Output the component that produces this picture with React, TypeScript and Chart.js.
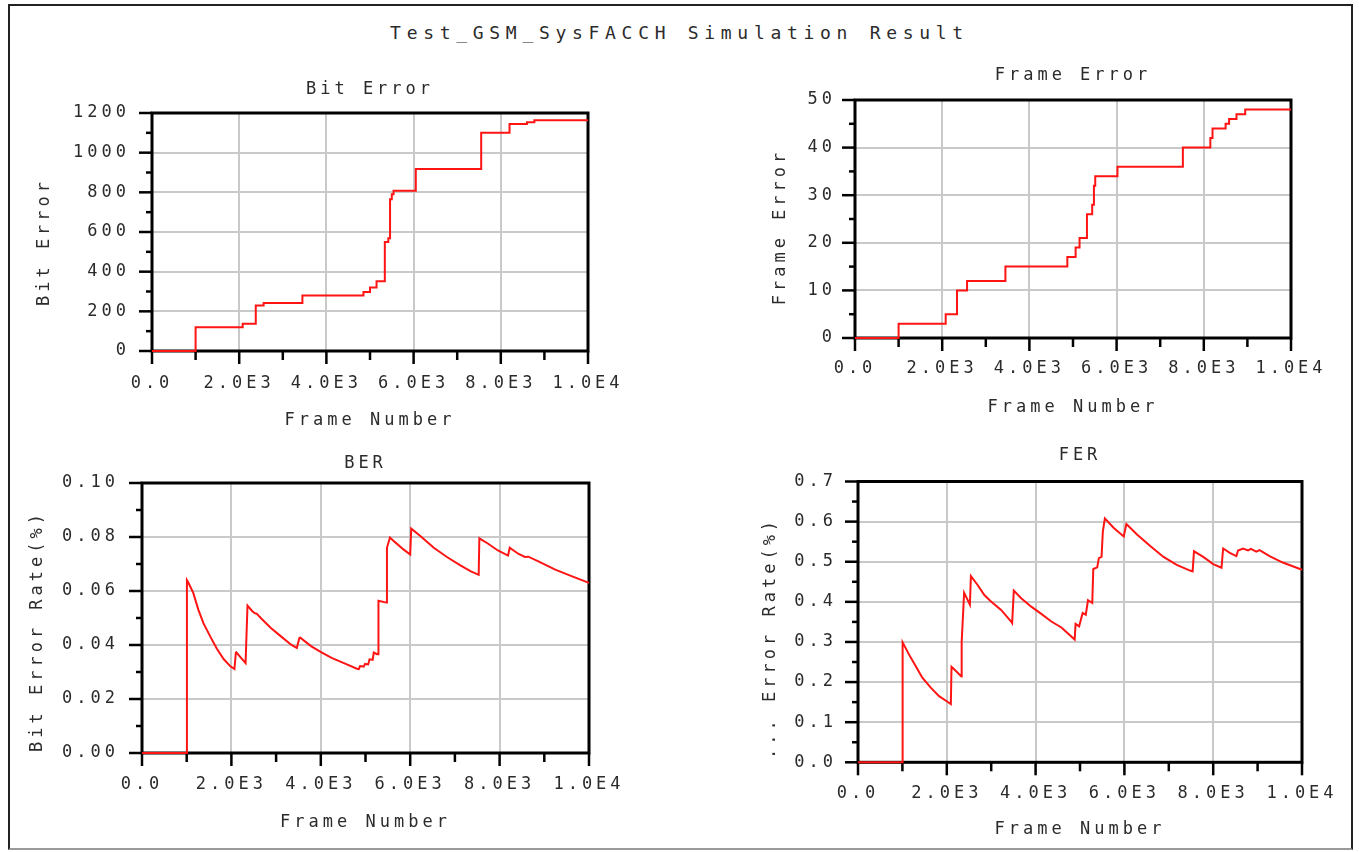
import React, { useEffect, useRef } from 'react';
import { Chart, registerables } from 'chart.js';

Chart.register(...registerables);

// ---------- data ----------
const bitErrorFrames = [0, 1000, 2080, 2380, 2560, 3450, 4850, 5000, 5150, 5340, 5420, 5460, 5500, 5540, 6050, 7550, 8200, 8600, 8770, 10000];
const bitErrorValues = [0, 120, 138, 230, 242, 280, 298, 320, 352, 550, 568, 765, 790, 808, 918, 1100, 1145, 1153, 1163, 1163];

const frameErrorFrames = [0, 1000, 2080, 2340, 2570, 3450, 4870, 5060, 5150, 5320, 5440, 5480, 5510, 6020, 7520, 8150, 8200, 8500, 8580, 8750, 8950, 10000];
const frameErrorValues = [0, 3, 5, 10, 12, 15, 17, 19, 21, 26, 28, 32, 34, 36, 40, 42, 44, 45, 46, 47, 48, 48];

const berFrames = [0, 1000, 1005, 1030, 1147, 1260, 1374, 1525, 1675, 1826, 1977, 2068, 2100, 2110, 2317, 2360, 2468, 2520, 2566, 2657, 2883, 3109, 3336, 3464, 3520, 3540, 3789, 4015, 4242, 4543, 4808, 4850, 4880, 4960, 4990, 5060, 5090, 5160, 5185, 5260, 5283, 5290, 5470, 5480, 5547, 5660, 5849, 6000, 6023, 6226, 6528, 6830, 7132, 7358, 7532, 7547, 7736, 7962, 8189, 8226, 8415, 8566, 8642, 8868, 9245, 9623, 10000];
const berValues = [0, 0, 0.0640, 0.0633, 0.0593, 0.0531, 0.0481, 0.0432, 0.0386, 0.0348, 0.0321, 0.0311, 0.0372, 0.0373, 0.0333, 0.0546, 0.0525, 0.0518, 0.0516, 0.0500, 0.0463, 0.0432, 0.0401, 0.0389, 0.0426, 0.0427, 0.0395, 0.0373, 0.0352, 0.0331, 0.0312, 0.0311, 0.0322, 0.0320, 0.0330, 0.0328, 0.0347, 0.0345, 0.0372, 0.0366, 0.0366, 0.0564, 0.0557, 0.0760, 0.0798, 0.0781, 0.0754, 0.0735, 0.0831, 0.0804, 0.0760, 0.0725, 0.0694, 0.0673, 0.0660, 0.0795, 0.0776, 0.0750, 0.0731, 0.0760, 0.0738, 0.0726, 0.0727, 0.0710, 0.0679, 0.0654, 0.0630];

const ferFrames = [0, 1000, 1005, 1147, 1298, 1449, 1638, 1826, 2015, 2091, 2106, 2200, 2317, 2330, 2335, 2390, 2520, 2543, 2694, 2845, 2996, 3223, 3449, 3472, 3509, 3675, 3902, 4128, 4355, 4581, 4880, 4900, 4980, 5060, 5130, 5180, 5276, 5299, 5388, 5425, 5485, 5515, 5560, 5761, 5985, 6045, 6284, 6582, 6881, 7179, 7478, 7537, 7567, 7776, 8000, 8187, 8224, 8373, 8522, 8560, 8672, 8784, 8850, 8970, 9045, 9269, 9567, 10000];
const ferValues = [0, 0, 0.299, 0.269, 0.240, 0.211, 0.186, 0.165, 0.151, 0.145, 0.238, 0.228, 0.215, 0.214, 0.300, 0.423, 0.393, 0.464, 0.442, 0.417, 0.401, 0.380, 0.351, 0.347, 0.428, 0.409, 0.388, 0.370, 0.351, 0.336, 0.306, 0.345, 0.339, 0.372, 0.368, 0.404, 0.397, 0.482, 0.486, 0.509, 0.512, 0.576, 0.608, 0.584, 0.563, 0.594, 0.568, 0.539, 0.512, 0.492, 0.478, 0.476, 0.526, 0.512, 0.494, 0.485, 0.533, 0.522, 0.514, 0.528, 0.533, 0.528, 0.532, 0.525, 0.529, 0.514, 0.498, 0.480];

// tick labels (labelled every second tick)
const frameTickLabels = ['0.0', '2.0E3', '4.0E3', '6.0E3', '8.0E3', '1.0E4'];
const bitErrorTickLabels = ['0', '200', '400', '600', '800', '1000', '1200'];
const frameErrorTickLabels = ['0', '10', '20', '30', '40', '50'];
const berTickLabels = ['0.00', '0.02', '0.04', '0.06', '0.08', '0.10'];
const ferTickLabels = ['0.0', '0.1', '0.2', '0.3', '0.4', '0.5', '0.6', '0.7'];

const mainTitle = 'Test_GSM_SysFACCH Simulation Result';
const xAxisTitle = 'Frame Number';

const FONT = 'DejaVu Sans Mono';
const TEXT = '#2b2b2b';
const GRID = '#c9c9c9';
const LINE = '#ff1414';

type PanelProps = {
  left: number; top: number; width: number; height: number;
  padRight: number; yWidth: number; yTitleX: number; yTitleShift: number;
  titleTop: number; titleBottom: number;
  xHeight: number; xTitleBottom: number; xTickPad: number; yTickPad: number;
  title: string; yTitle: string;
  frames: number[]; values: number[];
  yMax: number; yStep: number; yLabels: string[];
  stepped: boolean;
};

function Panel(p: PanelProps) {
  const ref = useRef<HTMLCanvasElement | null>(null);
  useEffect(() => {
    const canvas = ref.current;
    if (!canvas) return;
    const font = { family: FONT, size: 17, weight: 'normal' as const, lineHeight: 1.2 };
    const setSpacing = (c: any) => { try { c.ctx.letterSpacing = '4px'; } catch (e) { /* ignore */ } };
    const spacing = {
      id: 'spacing',
      beforeInit: setSpacing,
      beforeUpdate: setSpacing,
      beforeLayout: setSpacing,
      beforeDraw: setSpacing,
    };
    const frame = {
      id: 'frame',
      beforeDatasetsDraw(c: any) {
        const { ctx, chartArea: a, scales } = c;
        ctx.save();
        ctx.strokeStyle = '#000';
        ctx.lineWidth = 2.5;
        scales.x.ticks.forEach((t: any) => {
          const px = scales.x.getPixelForValue(t.value);
          const len = t.label !== '' ? 13 : 9;
          ctx.beginPath();
          ctx.moveTo(px, a.bottom);
          ctx.lineTo(px, a.bottom + len);
          ctx.stroke();
        });
        scales.y.ticks.forEach((t: any) => {
          const py = scales.y.getPixelForValue(t.value);
          const len = t.label !== '' ? 13 : 6;
          ctx.beginPath();
          ctx.moveTo(a.left - len, py);
          ctx.lineTo(a.left, py);
          ctx.stroke();
        });
        ctx.lineWidth = 3;
        ctx.strokeRect(a.left, a.top, a.right - a.left, a.bottom - a.top);
        ctx.restore();
      },
      afterDraw(c: any) {
        const { ctx, chartArea: a } = c;
        ctx.save();
        try { ctx.letterSpacing = '4px'; } catch (e) { /* ignore */ }
        ctx.font = `17px "${FONT}"`;
        ctx.fillStyle = TEXT;
        ctx.translate(p.yTitleX, (a.top + a.bottom) / 2 + p.yTitleShift);
        ctx.rotate(-Math.PI / 2);
        ctx.textAlign = 'center';
        ctx.textBaseline = 'middle';
        ctx.fillText(p.yTitle, 0, 0);
        ctx.restore();
      },
    };
    const xMinor = 1000;
    const yMinor = p.yStep;
    const chart = new Chart(canvas, {
      type: 'line',
      data: {
        datasets: [{
          data: p.frames.map((f, i) => ({ x: f, y: p.values[i] })),
          borderColor: LINE,
          borderWidth: 2,
          pointRadius: 0,
          tension: 0,
          stepped: p.stepped ? 'before' : false,
          clip: false,
        } as any],
      },
      options: {
        animation: false,
        responsive: false,
        devicePixelRatio: 1,
        layout: { padding: { left: 0, top: 0, right: p.padRight, bottom: 0 } },
        plugins: {
          legend: { display: false },
          tooltip: { enabled: false },
          title: {
            display: true,
            text: p.title,
            fullSize: false,
            color: TEXT,
            font,
            padding: { top: p.titleTop, bottom: p.titleBottom },
          },
        },
        scales: {
          x: {
            type: 'linear',
            min: 0,
            max: 10000,
            afterFit: (s: any) => { s.height = p.xHeight; },
            ticks: {
              stepSize: xMinor,
              autoSkip: false,
              maxRotation: 0,
              minRotation: 0,
              padding: p.xTickPad,
              color: TEXT,
              font,
              callback: (v: any) => {
                const i = Math.round(Number(v) / xMinor);
                return i % 2 === 0 ? (frameTickLabels[i / 2] ?? '') : '';
              },
            },
            grid: {
              drawTicks: false,
              lineWidth: 2,
              color: (ctx: any) => {
                const v = ctx.tick ? ctx.tick.value : 0;
                const i = Math.round(v / xMinor);
                return i % 2 === 0 ? GRID : 'rgba(0,0,0,0)';
              },
            },
            border: { display: false },
            title: {
              display: true,
              text: xAxisTitle,
              color: TEXT,
              font,
              padding: { top: 0, bottom: p.xTitleBottom },
            },
          },
          y: {
            type: 'linear',
            min: 0,
            max: p.yMax,
            afterFit: (s: any) => { s.width = p.yWidth; },
            ticks: {
              stepSize: yMinor,
              maxTicksLimit: 100,
              autoSkip: false,
              padding: p.yTickPad,
              color: TEXT,
              font,
              callback: (v: any) => {
                const i = Math.round(Number(v) / yMinor);
                return i % 2 === 0 ? (p.yLabels[i / 2] ?? '') : '';
              },
            },
            grid: {
              drawTicks: false,
              lineWidth: 2,
              color: (ctx: any) => {
                const v = ctx.tick ? ctx.tick.value : 0;
                const i = Math.round(v / yMinor);
                return i % 2 === 0 ? GRID : 'rgba(0,0,0,0)';
              },
            },
            border: { display: false },
            title: { display: false },
          },
        },
      } as any,
      plugins: [spacing, frame],
    });
    return () => { chart.destroy(); };
  }, []);
  return (
    <canvas
      ref={ref}
      width={p.width}
      height={p.height}
      style={{ position: 'absolute', left: p.left, top: p.top, width: p.width, height: p.height }}
    />
  );
}

export default function App() {
  return (
    <div style={{ position: 'absolute', left: 0, top: 0, width: 1359, height: 852, background: '#fff', overflow: 'hidden' }}>
      <div style={{ position: 'absolute', left: 8, top: 4, width: 1341, height: 842, border: '2px solid #222', borderBottomColor: '#9a9a9a' }} />
      <div style={{ position: 'absolute', left: 0, top: 22, width: 1359, textAlign: 'center', fontFamily: FONT, fontSize: 18, lineHeight: '22px', letterSpacing: '5.7px', color: TEXT }}>
        {mainTitle}
      </div>
      <Panel left={10} top={60} width={640} height={380} padRight={62} yWidth={142} yTitleX={35} yTitleShift={10}
        titleTop={19.8} titleBottom={12.8} xHeight={89} xTitleBottom={8.8} xTickPad={22} yTickPad={22}
        title="Bit Error" yTitle="Bit Error" frames={bitErrorFrames} values={bitErrorValues}
        yMax={1200} yStep={100} yLabels={bitErrorTickLabels} stepped={true} />
      <Panel left={720} top={40} width={633} height={380} padRight={62} yWidth={135} yTitleX={61} yTitleShift={8}
        titleTop={25.8} titleBottom={13.8} xHeight={82} xTitleBottom={1.8} xTickPad={20} yTickPad={19}
        title="Frame Error" yTitle="Frame Error" frames={frameErrorFrames} values={frameErrorValues}
        yMax={50} yStep={5} yLabels={frameErrorTickLabels} stepped={true} />
      <Panel left={10} top={430} width={641} height={410} padRight={62} yWidth={132} yTitleX={28} yTitleShift={13}
        titleTop={23.8} titleBottom={8.8} xHeight={87} xTitleBottom={6.8} xTickPad={21.5} yTickPad={23}
        title="BER" yTitle="Bit Error Rate(%)" frames={berFrames} values={berValues}
        yMax={0.1} yStep={0.01} yLabels={berTickLabels} stepped={false} />
      <Panel left={720} top={420} width={644} height={420} padRight={62} yWidth={138} yTitleX={51} yTitleShift={16}
        titleTop={25.8} titleBottom={15.3} xHeight={77.7} xTitleBottom={0} xTickPad={21.5} yTickPad={21}
        title="FER" yTitle="... Error Rate(%)" frames={ferFrames} values={ferValues}
        yMax={0.7} yStep={0.05} yLabels={ferTickLabels} stepped={false} />
    </div>
  );
}
